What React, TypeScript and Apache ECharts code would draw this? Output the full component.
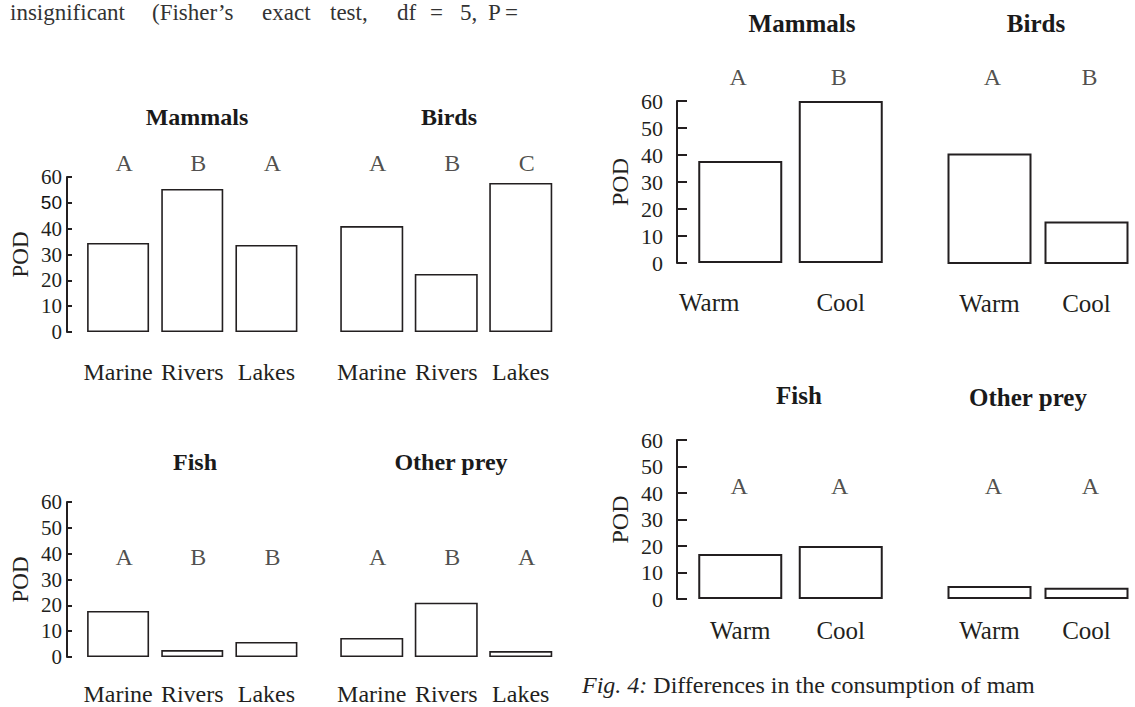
import React, { useEffect, useRef } from 'react';
import * as echarts from 'echarts';

// ---- data ----
const habitatCats = ['Marine', 'Rivers', 'Lakes'];
const climateCats = ['Warm', 'Cool'];
const podTicks = { min: 0, max: 60, interval: 10 };

const habitatMammals = [34.5, 55.4, 33.7];
const habitatBirds = [41.0, 22.5, 57.7];
const habitatFish = [17.8, 2.7, 5.8];
const habitatOther = [7.4, 21.0, 2.3];

const climateMammals = [37.8, 60.0];
const climateBirds = [40.7, 15.6];
const climateFish = [17.0, 20.0];
const climateOther = [4.9, 4.2];

const habitatMammalsLetters = ['A', 'B', 'A'];
const habitatBirdsLetters = ['A', 'B', 'C'];
const habitatFishLetters = ['A', 'B', 'B'];
const habitatOtherLetters = ['A', 'B', 'A'];
const climateMammalsLetters = ['A', 'B'];
const climateBirdsLetters = ['A', 'B'];
const climateFishLetters = ['A', 'A'];
const climateOtherLetters = ['A', 'A'];

const topLineWords = ['insignificant', '(Fisher\u2019s', 'exact', 'test,', 'df', '=', '5,', 'P', '='];
const captionItalic = 'Fig. 4:';
const captionText = ' Differences in the consumption of mam';

// ---- layout ----
const SERIF = 'Liberation Serif';
const SANS = 'Liberation Sans';
const INK = '#231f20';

type Panel = {
  title: string;
  cats: string[];
  values: number[];
  letters: string[];
  grid: { left: number; top: number; width: number; height: number };
  showY: boolean;
  big: boolean;
  letterLevel: number;
  letterDx: number;
  titleX: number;
  titleY: number;
  labelMargin: number;
  barWidth: number;
};

const panels: Panel[] = [
  { title: 'Mammals', cats: habitatCats, values: habitatMammals, letters: habitatMammalsLetters,
    grid: { left: 81, top: 177, width: 222.5, height: 155 }, showY: true, big: false,
    letterLevel: 65.4, letterDx: 6, titleX: 197, titleY: 117, labelMargin: 28, barWidth: 62 },
  { title: 'Birds', cats: habitatCats, values: habitatBirds, letters: habitatBirdsLetters,
    grid: { left: 334.5, top: 177, width: 223.5, height: 155 }, showY: false, big: false,
    letterLevel: 65.4, letterDx: 6, titleX: 449, titleY: 117, labelMargin: 28, barWidth: 63 },
  { title: 'Fish', cats: habitatCats, values: habitatFish, letters: habitatFishLetters,
    grid: { left: 81, top: 502, width: 222.5, height: 155 }, showY: true, big: false,
    letterLevel: 38.7, letterDx: 6, titleX: 195, titleY: 462, labelMargin: 25, barWidth: 62 },
  { title: 'Other prey', cats: habitatCats, values: habitatOther, letters: habitatOtherLetters,
    grid: { left: 334.5, top: 502, width: 223.5, height: 155 }, showY: false, big: false,
    letterLevel: 38.7, letterDx: 6, titleX: 451, titleY: 462, labelMargin: 25, barWidth: 63 },
  { title: 'Mammals', cats: climateCats, values: climateMammals, letters: climateMammalsLetters,
    grid: { left: 690, top: 101, width: 201, height: 162 }, showY: true, big: true,
    letterLevel: 68.9, letterDx: -2, titleX: 802, titleY: 23, labelMargin: 27, barWidth: 84 },
  { title: 'Birds', cats: climateCats, values: climateBirds, letters: climateBirdsLetters,
    grid: { left: 941, top: 101, width: 201, height: 163 }, showY: false, big: true,
    letterLevel: 68.9, letterDx: 3, titleX: 1036, titleY: 23, labelMargin: 27, barWidth: 84 },
  { title: 'Fish', cats: climateCats, values: climateFish, letters: climateFishLetters,
    grid: { left: 690, top: 440, width: 201, height: 159 }, showY: true, big: true,
    letterLevel: 42.6, letterDx: -1, titleX: 799, titleY: 395, labelMargin: 19, barWidth: 84 },
  { title: 'Other prey', cats: climateCats, values: climateOther, letters: climateOtherLetters,
    grid: { left: 941, top: 440, width: 201, height: 159 }, showY: false, big: true,
    letterLevel: 42.6, letterDx: 4, titleX: 1028, titleY: 397, labelMargin: 19, barWidth: 84 },
];

const topLineX = [10, 152, 262, 330, 397, 430, 460, 488, 505];

export default function App() {
  const ref = useRef<HTMLDivElement>(null);

  useEffect(() => {
    if (!ref.current) return;
    const chart = echarts.init(ref.current, null, { renderer: 'svg' });

    const grid = panels.map((p) => ({ ...p.grid, containLabel: false }));

    const xAxis = panels.map((p, i) => ({
      type: 'category',
      gridIndex: i,
      data: p.cats.map((c, j) =>
        p.big && i === 4 && j === 0
          ? { value: c, textStyle: { padding: [0, 62, 0, 0] } }
          : c
      ),
      axisLine: { show: false },
      axisTick: { show: false },
      axisLabel: {
        fontFamily: SERIF,
        fontSize: p.big ? 25 : 24,
        color: INK,
        margin: p.labelMargin,
        interval: 0,
      },
    }));

    const yAxis = panels.map((p, i) => ({
      type: 'value',
      gridIndex: i,
      min: podTicks.min,
      max: podTicks.max,
      interval: podTicks.interval,
      show: p.showY,
      offset: p.big ? 13 : 14,
      name: 'POD',
      nameLocation: 'middle',
      nameRotate: 90,
      nameGap: p.big ? 45 : 35,
      nameTextStyle: { fontFamily: SERIF, fontSize: p.big ? 24 : 23, color: INK },
      axisLine: { show: true, lineStyle: { color: INK, width: 2 } },
      axisTick: { show: true, inside: true, length: p.big ? 10 : 5, lineStyle: { color: INK, width: 2 } },
      splitLine: { show: false },
      axisLabel: {
        fontFamily: SERIF,
        fontSize: p.big ? 22 : 21,
        color: INK,
        margin: p.big ? 14 : 5,
        formatter: (v: number) => (!p.big && i === 0 && v === 50 ? '{s|50}' : String(v)),
        rich: { s: { fontFamily: SANS, fontSize: 19, color: '#111' } },
      },
    }));

    const series: any[] = [];
    panels.forEach((p, i) => {
      series.push({
        type: 'bar',
        xAxisIndex: i,
        yAxisIndex: i,
        data: p.values,
        barWidth: p.barWidth,
        itemStyle: { color: '#ffffff', borderColor: INK, borderWidth: p.big ? 2 : 1.6 },
        silent: true,
      });
      series.push({
        type: 'scatter',
        xAxisIndex: i,
        yAxisIndex: i,
        clip: false,
        symbol: 'circle',
        symbolSize: 1,
        itemStyle: { color: 'rgba(0,0,0,0)' },
        data: p.letters.map((_, j) => [j, p.letterLevel]),
        label: {
          show: true,
          position: 'inside',
          offset: [p.letterDx, 0],
          formatter: (d: any) => p.letters[d.dataIndex],
          fontFamily: SERIF,
          fontSize: 24,
          color: INK,
        },
        silent: true,
      });
    });

    const graphic: any[] = [];
    panels.forEach((p) => {
      graphic.push({
        type: 'text',
        x: p.titleX,
        y: p.titleY,
        style: {
          text: p.title,
          fontFamily: SERIF,
          fontWeight: 'bold',
          fontSize: p.big ? 25 : 24,
          fill: '#1a1a1a',
          textAlign: 'center',
          textVerticalAlign: 'middle',
        },
      });
    });
    topLineWords.forEach((w, k) => {
      graphic.push({
        type: 'text',
        x: topLineX[k],
        y: 12,
        style: {
          text: w,
          fontFamily: SERIF,
          fontSize: 23,
          fill: '#333',
          textAlign: 'left',
          textVerticalAlign: 'middle',
        },
      });
    });
    graphic.push({
      type: 'text',
      x: 582,
      y: 685,
      style: {
        text: '{i|' + captionItalic + '}' + captionText,
        fontFamily: SERIF,
        fontSize: 24,
        fill: '#222',
        textAlign: 'left',
        textVerticalAlign: 'middle',
        rich: {
          i: { fontFamily: SERIF, fontStyle: 'italic', fontSize: 24, fill: '#222' },
        },
      },
    });

    chart.setOption({
      animation: false,
      backgroundColor: '#ffffff',
      grid,
      xAxis,
      yAxis,
      series,
      graphic,
    });

    return () => chart.dispose();
  }, []);

  return (
    <div
      ref={ref}
      style={{ position: 'absolute', left: 0, top: 0, width: 1135, height: 707, background: '#fff' }}
    />
  );
}
